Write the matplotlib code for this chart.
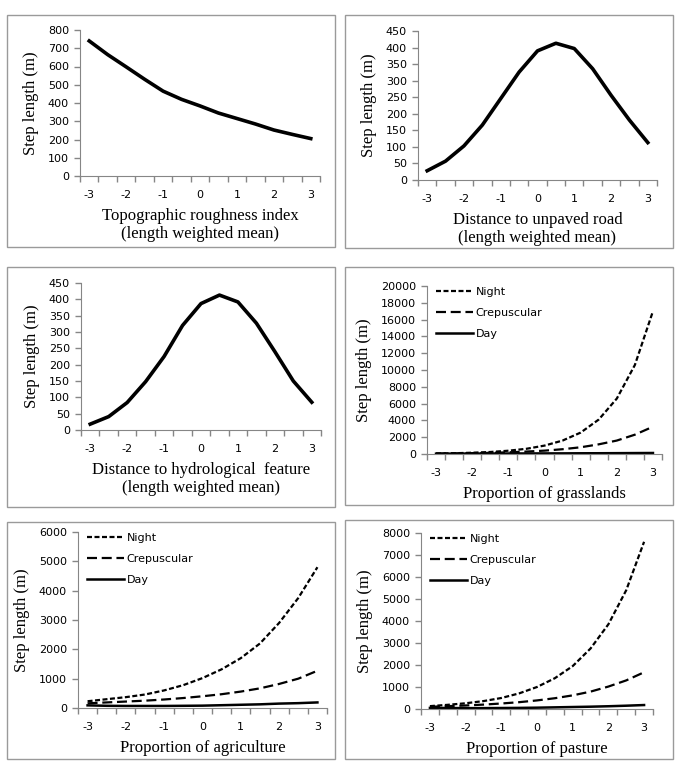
import matplotlib
matplotlib.use("Agg")
import matplotlib.pyplot as plt
from matplotlib.patches import Rectangle
from matplotlib.ticker import FixedLocator, NullFormatter

plt.rcParams['lines.scale_dashes'] = False

x = [-3, -2.5, -2, -1.5, -1, -0.5, 0, 0.5, 1, 1.5, 2, 2.5, 3]
x_labels = ['-3', '-2', '-1', '0', '1', '2', '3']

roughness = [740, 665, 598, 530, 465, 420, 384, 345, 315, 285, 252, 228, 205]
unpaved = [28, 57, 103, 166, 246, 326, 390, 413, 397, 336, 256, 181, 113]
hydro = [18, 41, 84, 148, 225, 320, 387, 413, 392, 327, 240, 150, 85]

grass_night = [60, 90, 150, 240, 390, 620, 1000, 1600, 2550, 4100, 6600, 10600, 17000]
grass_crep = [50, 70, 100, 140, 200, 290, 400, 570, 800, 1150, 1600, 2300, 3250]
grass_day = [40, 45, 50, 55, 60, 65, 70, 75, 85, 90, 100, 110, 120]

agri_night = [230, 300, 370, 460, 600, 780, 1020, 1320, 1700, 2200, 2900, 3750, 4800]
agri_crep = [160, 190, 220, 250, 290, 340, 400, 470, 560, 670, 820, 1000, 1270]
agri_day = [90, 75, 70, 70, 70, 75, 80, 95, 110, 125, 150, 165, 190]

past_night = [130, 190, 260, 360, 500, 710, 1000, 1400, 1950, 2750, 3850, 5400, 7600]
past_crep = [100, 130, 160, 200, 250, 310, 390, 490, 620, 790, 1020, 1300, 1670]
past_day = [50, 45, 40, 40, 45, 50, 60, 75, 90, 105, 125, 150, 180]

W, H = 680, 775
fig = plt.figure(figsize=(W / 100, H / 100), dpi=100)

SANS = 'DejaVu Sans'
SERIF = 'Liberation Serif'
SPINE = '#868686'


def box(l, t, r, b):
    fig.patches.append(Rectangle((l / W, 1 - b / H), (r - l) / W, (b - t) / H,
                                 transform=fig.transFigure, fill=False,
                                 edgecolor='#9a9a9a', lw=1.0))


def make_ax(l, t, r, b, ymax, ystep, xlabel):
    ax = fig.add_axes([l / W, 1 - b / H, (r - l) / W, (b - t) / H])
    ax.set_xlim(-3.25, 3.25)
    ax.set_ylim(0, ymax)
    ax.set_yticks(range(0, ymax + 1, ystep))
    ax.set_xticks(range(-3, 4))
    ax.set_xticklabels(x_labels)
    ax.xaxis.set_minor_locator(FixedLocator([-3.25 + 0.5 * i for i in range(14)]))
    ax.xaxis.set_minor_formatter(NullFormatter())
    ax.tick_params(axis='x', which='major', length=0, pad=10)
    ax.tick_params(axis='x', which='minor', length=4, width=1, color=SPINE)
    ax.tick_params(axis='y', length=4, width=1, color=SPINE, pad=4)
    for lab in ax.get_xticklabels() + ax.get_yticklabels():
        lab.set_fontfamily(SANS)
        lab.set_fontsize(8)
    for s in ['top', 'right']:
        ax.spines[s].set_visible(False)
    for s in ['left', 'bottom']:
        ax.spines[s].set_color(SPINE)
    ax.set_ylabel('Step length (m)', fontfamily=SERIF, fontsize=12, labelpad=6)
    ax.set_xlabel(xlabel, fontfamily=SERIF, fontsize=12, labelpad=6,
                  linespacing=1.15)
    ax.patch.set_alpha(0)
    return ax


def three_lines(ax, night, crep, day):
    ax.plot(x, night, color='black', lw=1.6, dashes=(3.6, 1.8), label='Night')
    ax.plot(x, crep, color='black', lw=1.6, dashes=(7.2, 3.4), label='Crepuscular')
    ax.plot(x, day, color='black', lw=1.8, label='Day')
    ax.legend(loc='upper left', bbox_to_anchor=(0.02, 1.02), frameon=False,
              prop={'family': SANS, 'size': 8}, handlelength=3.3,
              handletextpad=0.25, labelspacing=1.0, borderaxespad=0)


# row 1
box(7, 15, 335, 247)
ax = make_ax(80, 30, 320, 176, 800, 100,
             'Topographic roughness index\n(length weighted mean)')
ax.plot(x, roughness, color='black', lw=2.6)

box(345, 15, 673, 248)
ax = make_ax(418, 31, 657, 180, 450, 50,
             'Distance to unpaved road\n(length weighted mean)')
ax.plot(x, unpaved, color='black', lw=2.6)

# row 2
box(7, 267, 335, 507)
ax = make_ax(81, 283, 321, 430, 450, 50,
             'Distance to hydrological  feature\n(length weighted mean)')
ax.plot(x, hydro, color='black', lw=2.6)

box(345, 267, 673, 505)
ax = make_ax(427, 286, 662, 454, 20000, 2000, 'Proportion of grasslands')
three_lines(ax, grass_night, grass_crep, grass_day)

# row 3
box(7, 522, 335, 759)
ax = make_ax(78, 532, 327, 708, 6000, 1000, 'Proportion of agriculture')
three_lines(ax, agri_night, agri_crep, agri_day)

box(345, 520, 673, 759)
ax = make_ax(421, 533, 653, 709, 8000, 1000, 'Proportion of pasture')
three_lines(ax, past_night, past_crep, past_day)

fig.savefig('out.png', dpi=100)
